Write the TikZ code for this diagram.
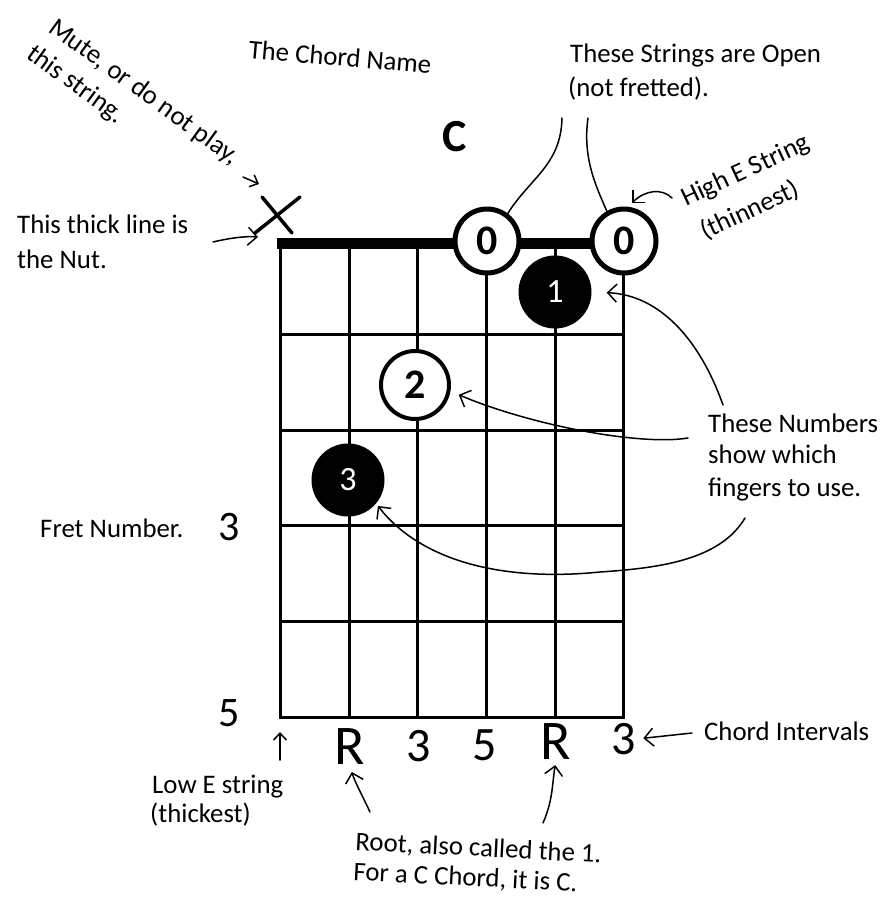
\documentclass[tikz,border=0pt]{standalone}
\usepackage{fontspec}
\setmainfont{Carlito}
\usetikzlibrary{arrows.meta}
\begin{document}
\begin{tikzpicture}[x=1pt,y=-1pt,
  gridline/.style={line width=3pt,line cap=rect},
  nutbar/.style={line width=11pt},
  mutestroke/.style={line width=3.5pt,line cap=round},
  opendot/.style={circle,draw=black,line width=5pt,fill=white,minimum size=64pt,inner sep=0pt,font=\fontsize{42}{42}\selectfont\bfseries},
  fingeropen/.style={circle,draw=black,line width=4pt,fill=white,minimum size=68pt,inner sep=0pt,font=\fontsize{42}{42}\selectfont\bfseries},
  fingerdot/.style={circle,fill=black,minimum size=73pt,inner sep=0pt,text=white,font=\fontsize{34}{34}\selectfont},
  lbl/.style={font=\fontsize{26.8}{34}\selectfont,inner sep=0pt,anchor=base west},
  hand/.style={font=\fontsize{48}{48}\selectfont,inner sep=0pt},
  handR/.style={font=\fontsize{56}{56}\selectfont,inner sep=0pt},
  fretnum/.style={font=\fontsize{42}{42}\selectfont,inner sep=0pt},
  pen/.style={line width=1.5pt,line cap=round},
  tip/.style={-{Straight Barb[length=9pt,width=18pt,line width=1.5pt]}},
  smalltip/.style={-{Straight Barb[length=7pt,width=13pt,line width=1.5pt]}}
]
\fill[white] (0,0) rectangle (892,905);
\useasboundingbox (0,0) rectangle (892,905);

% grid
\foreach \x in {280,349,417,486,555,623} \draw[gridline] (\x,243) -- (\x,717);
\foreach \y in {334,430,525,621,717} \draw[gridline] (280,\y) -- (623,\y);
\draw[nutbar] (277,243) -- (625,243);

% mute mark
\coordinate (mutex) at (277,215);
\draw[mutestroke] (262,197) -- (292,233);
\draw[mutestroke] (300,197) -- (255,233);

% open strings and fingers
\node[opendot] (o5) at (487,241) {0};
\node[opendot] (o6) at (624,241) {0};
\node[fingerdot] (f1) at (555,292) {1};
\node[fingeropen] (f2) at (415,385) {2};
\node[fingerdot] (f3) at (348,480) {3};

% labels
\node[lbl,rotate=-36] (mute1) at (47,31) {Mute, or do not play,};
\node[lbl,rotate=-36] (mute2) at (25,57) {this string.};
\node[lbl,rotate=-5] (chordlbl) at (248,58) {The Chord Name};
\node[font=\fontsize{46}{46}\selectfont\bfseries,inner sep=0pt] (chord) at (455,137) {C};
\node[lbl] (open1) at (570,62) {These Strings are Open};
\node[lbl] (open2) at (568,96) {(not fretted).};
\node[lbl,rotate=25] (high1) at (686,207) {High E String};
\node[lbl,rotate=25] (high2) at (705,240) {(thinnest)};
\node[lbl] (nut1) at (17,233) {This thick line is};
\node[lbl] (nut2) at (17,268) {the Nut.};
\node[lbl] (fretlbl) at (40,537) {Fret Number.};
\node[fretnum] (fret3) at (229,527) {3};
\node[fretnum] (fret5) at (229,713) {5};
\node[lbl] (low1) at (152,793) {Low E string};
\node[lbl] (low2) at (150,822) {(thickest)};
\node[lbl] (num1) at (708,432) {These Numbers};
\node[lbl] (num2) at (708,463) {show which};
\node[lbl] (num3) at (708,496) {fingers to use.};
\node[lbl] (intlbl) at (704,740) {Chord Intervals};
\node[lbl,rotate=-3] (root1) at (355,850) {Root, also called the 1.};
\node[lbl,rotate=-3] (root2) at (353,880) {For a C Chord, it is C.};

% intervals
\node[handR] (i1) at (350,747) {R};
\node[hand] (i2) at (419,746) {3};
\node[hand] (i3) at (485,745) {5};
\node[handR] (i4) at (556,742) {R};
\node[hand] (i5) at (624,739) {3};

% connectors
\coordinate (mutes) at (243,177);
\coordinate (mutet) at (259,184);
\draw[pen,smalltip] (mutes) -- (mutet);
\coordinate (nuts) at (213,242);
\coordinate (nutt) at (258,237);
\draw[pen,tip] (nuts) .. controls (230,238) and (245,236) .. (nutt);

\coordinate (s5top) at (562,118);
\coordinate (s6top) at (588,118);
\draw[pen] (s5top) .. controls (561,165) and (530,178) .. (o5.53);
\draw[pen] (s6top) .. controls (582,160) and (598,190) .. (o6.120);

\coordinate (highs) at (672,198);
\coordinate (hight) at (632,203);
\draw[pen,tip] (highs) .. controls (662,188) and (645,190) .. (hight);

\coordinate (a1s) at (723,405);
\coordinate (a2s) at (688,438);
\coordinate (a3s) at (745,518);
\coordinate (a3m) at (600,572);
\draw[pen,tip,shorten >=15pt] (a1s) .. controls (700,340) and (660,295) .. (f1.east);
\draw[pen,tip,shorten >=9pt] (a2s) .. controls (640,446) and (530,425) .. (f2.-10);
\draw[pen,tip,shorten >=3pt] (a3s) .. controls (720,560) and (660,568) .. (a3m)
   .. controls (500,582) and (420,560) .. (f3.-40);

\coordinate (lows) at (280,760);
\coordinate (lowt) at (280,732);
\draw[pen,smalltip] (lows) -- (lowt);

\coordinate (ints) at (692,733);
\draw[pen,tip,shorten >=7pt] (ints) -- (i5.east);

\coordinate (r1s) at (370,812);
\coordinate (r2s) at (543,823);
\draw[pen,tip,shorten >=7pt] (r1s) .. controls (362,795) and (354,780) .. (i1.south);
\draw[pen,tip,shorten >=5pt] (r2s) .. controls (553,800) and (552,785) .. (i4.south);
\end{tikzpicture}
\end{document}
